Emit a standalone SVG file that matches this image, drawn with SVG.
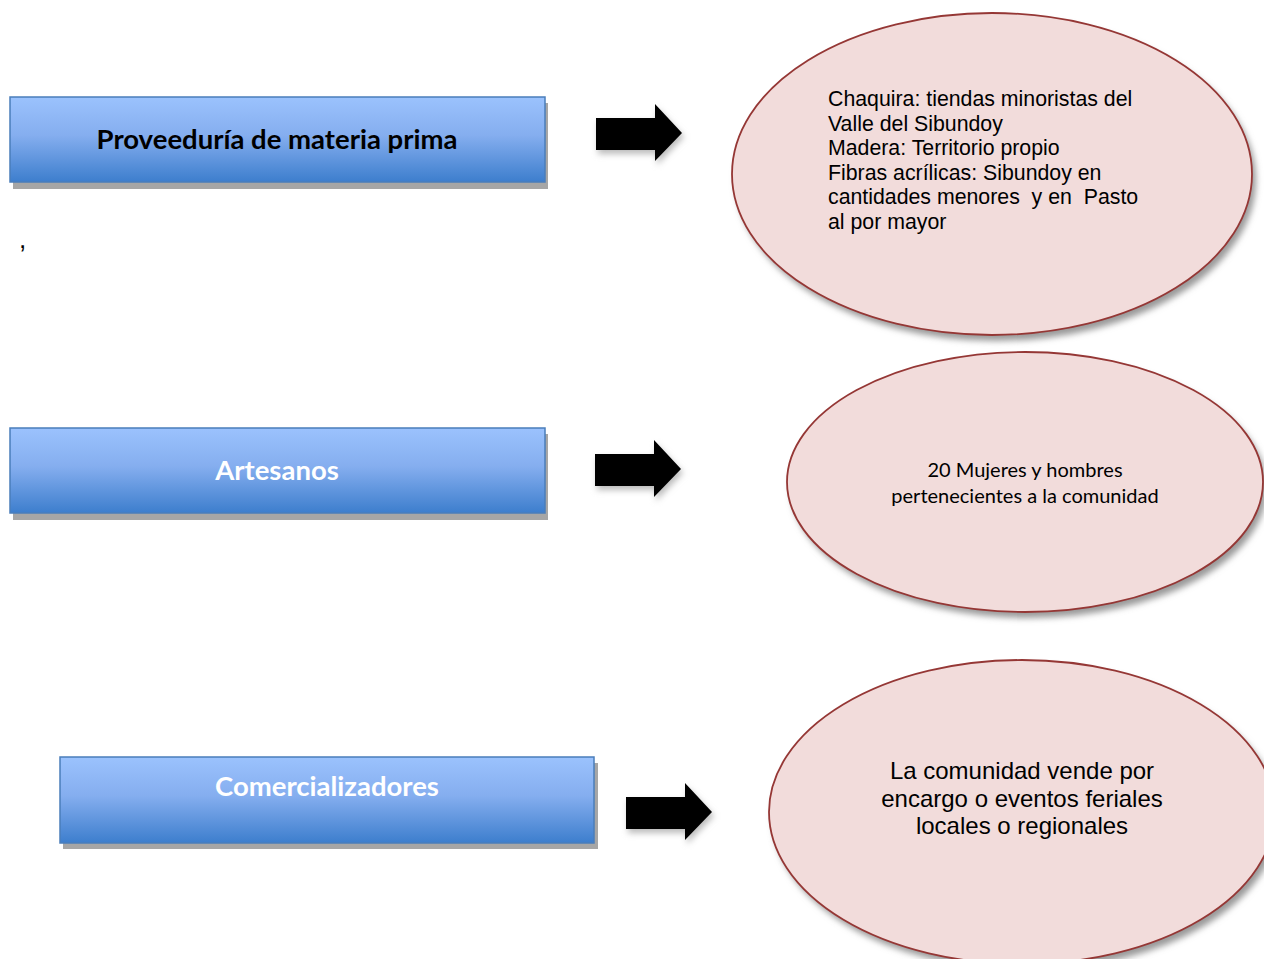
<svg xmlns="http://www.w3.org/2000/svg" width="1264" height="959" viewBox="0 0 1264 959">
<defs>
<linearGradient id="boxg" x1="0" y1="0" x2="0" y2="1">
<stop offset="0" stop-color="#9bc2fd"/>
<stop offset="0.45" stop-color="#85aeef"/>
<stop offset="1" stop-color="#3d7ecd"/>
</linearGradient>
<filter id="blur" x="-10%" y="-10%" width="120%" height="130%"><feGaussianBlur stdDeviation="3"/></filter>
</defs>
<style>
.box{fill:url(#boxg);stroke:#4a7ebb;stroke-width:1.5}
.bshadow{fill:#a6a6a6}
.ell{fill:#f2dcdb;stroke:#953735;stroke-width:1.8}
.eshadow{fill:#9a9a9a;filter:url(#blur)}
.arrow{fill:#000}
.ashadow{fill:#bbb;filter:url(#blur)}
.t1{font-family:Lato,"Open Sans","Noto Sans",sans-serif;font-weight:bold;font-size:27.5px;text-anchor:middle}
.ar{font-family:"Liberation Sans",Arial,sans-serif;fill:#000}
.cal{font-family:Lato,"Open Sans",sans-serif;font-size:20px;text-anchor:middle;fill:#000}
</style>
<rect width="1264" height="959" fill="#fff"/>
<text x="19" y="248" class="ar" font-size="26">,</text>
<g id="box1">
<rect class="bshadow" x="13" y="103" width="535" height="86"/>
<rect class="box" x="10" y="97" width="535" height="85"/>
<text class="t1" x="277" y="149" fill="#000">Proveeduría de materia prima</text>
</g>
<g id="box2">
<rect class="bshadow" x="13" y="434" width="535" height="86"/>
<rect class="box" x="10" y="428" width="535" height="85"/>
<text class="t1" x="277" y="480" fill="#fff">Artesanos</text>
</g>
<g id="box3">
<rect class="bshadow" x="63" y="763" width="535" height="86"/>
<rect class="box" x="60" y="757" width="534" height="86"/>
<text class="t1" x="327" y="796" fill="#fff">Comercializadores</text>
</g>
<g id="ell1">
<ellipse class="eshadow" cx="996" cy="180" rx="260" ry="161"/>
<ellipse class="ell" cx="992" cy="174" rx="260" ry="161"/>
<text class="ar" font-size="21.3" x="828">
<tspan x="828" y="106">Chaquira: tiendas minoristas del</tspan>
<tspan x="828" y="131">Valle del Sibundoy</tspan>
<tspan x="828" y="155">Madera: Territorio propio</tspan>
<tspan x="828" y="180">Fibras acrílicas: Sibundoy en</tspan>
<tspan x="828" y="204" xml:space="preserve">cantidades menores  y en  Pasto</tspan>
<tspan x="828" y="229">al por mayor</tspan>
</text>
</g>
<g id="ell2">
<ellipse class="eshadow" cx="1029" cy="488" rx="238" ry="130"/>
<ellipse class="ell" cx="1025" cy="482" rx="238" ry="130"/>
<text class="cal"><tspan x="1025" y="477">20 Mujeres y hombres</tspan><tspan x="1025" y="503">pertenecientes a la comunidad</tspan></text>
</g>
<g id="ell3">
<ellipse class="eshadow" cx="1026" cy="818" rx="253" ry="152"/>
<ellipse class="ell" cx="1022" cy="812" rx="253" ry="152"/>
<text class="ar" font-size="24" text-anchor="middle"><tspan x="1022" y="779">La comunidad vende por</tspan><tspan x="1022" y="807">encargo o eventos feriales</tspan><tspan x="1022" y="834">locales o regionales</tspan></text>
</g>
<g id="connectors">
<path class="ashadow" d="M598 122 H657 V108 L684 137 L657 165 V154 H598 Z"/>
<path class="arrow" d="M596 118 H655 V104 L682 133 L655 161 V150 H596 Z"/>
<path class="ashadow" d="M597 458 H656 V444 L683 473 L656 501 V490 H597 Z"/>
<path class="arrow" d="M595 454 H654 V440 L681 469 L654 497 V486 H595 Z"/>
<path class="ashadow" d="M628 801 H687 V787 L714 816 L687 844 V833 H628 Z"/>
<path class="arrow" d="M626 797 H685 V783 L712 812 L685 840 V829 H626 Z"/>
</g>
</svg>
